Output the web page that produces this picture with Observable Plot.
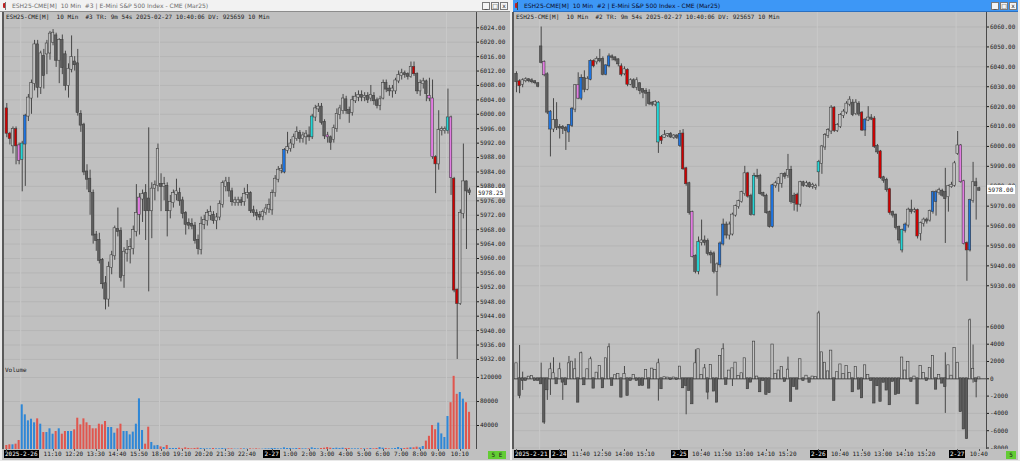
<!DOCTYPE html>
<html><head><meta charset="utf-8">
<script src="https://cdn.jsdelivr.net/npm/d3@7"></script>
<script src="https://cdn.jsdelivr.net/npm/@observablehq/plot@0.6"></script>
<style>
html,body{margin:0;padding:0;background:#e9e9e9;}
#root{position:relative;width:1020px;height:461px;overflow:hidden;background:#e9e9e9;}
#root div{position:absolute;box-sizing:border-box;}
.mono{font-family:"DejaVu Sans Mono",monospace;font-size:6px;color:#1a1a1a;white-space:pre;line-height:8px;}
.tbt{font-family:"DejaVu Sans",sans-serif;font-size:6px;white-space:pre;line-height:11px;}
.btn{width:8px;height:8px;top:2px;border:1px solid #7a7a7a;background:#f4f4f4;font:6px "DejaVu Sans";line-height:6px;text-align:center;color:#222;}
</style></head><body><div id="root"></div>
<script>
// ---------------- data ----------------
const leftTitle = "ESH25-CME[M]  10 Min  #3 | E-Mini S&P 500 Index - CME (Mar25)";
const rightTitle = "ESH25-CME[M]  10 Min  #2 | E-Mini S&P 500 Index - CME (Mar25)";
const leftHeader = "ESH25-CME[M]  10 Min  #3 TR: 9m 54s 2025-02-27 10:40:06 DV: 925659 10 Min";
const rightHeader = "ESH25-CME[M]  10 Min  #2 TR: 9m 54s 2025-02-27 10:40:06 DV: 925657 10 Min";

const leftOpen = [6001.5,5994.5,5991.25,5995.75,5991.25,5987.5,5991.75,5999.5,6004.5,6008.5,
6019.25,6007.5,6016,6016.75,6017,6020,6021.75,6015,6020.5,6016.5,
6008,6012.5,6014.5,6014,6000,5997,5984,5982,5978,5966.5,
5965,5959.5,5953,5948.75,5957.5,5960.75,5968,5967.5,5955.25,5961.5,
5962.5,5962.75,5967.5,5972.25,5976.5,5978,5976.5,5973.25,5979.5,5980.25,
5980.5,5980,5980,5973.25,5975.5,5977.75,5978,5976,5972.5,5969.75,
5969.5,5969,5965,5962.5,5969.5,5970.5,5972,5972,5970.5,5971.5,
5975,5980,5980.75,5978.5,5975.5,5975.5,5976,5975.75,5977.75,5978,
5973.25,5972.5,5972,5971.75,5972.75,5973.75,5973.5,5978.25,5982,5984.5,
5984,5990,5990.5,5991.75,5993.25,5994.75,5993.25,5993.75,5994,5993.75,
5999.25,6001.5,6002,5997.75,5994,5993.5,5993,5996,6000,6001,
6004,6001,6000.5,6003.75,6004.75,6005.25,6004.75,6005,6004.5,6005,
6003.75,6002.5,6004.5,6008.5,6007,6006.5,6006.5,6009.25,6010.75,6011.25,
6011,6010.5,6013,6011,6006.5,6008.5,6009,6005,6004.25,5988,
5986.25,5995.5,5995.5,5995.5,5999,5982,5951.25,5947.5,5972.5,5981.25,
5978.75];
const leftHigh = [6003,5995,5996.5,5996.5,5992,5992.5,6000,6005.5,6009.5,6020.5,
6020.5,6017.5,6018,6020.5,6023,6023.5,6022.5,6021,6022,6017.5,
6014,6021.75,6016,6018,6001,5997.5,5986,5984.5,5979,5967.5,
5967,5960,5955,5959,5962,5969,5974,5968.5,5963,5965,
5965.5,5969,5980.5,5978,5979,5980.5,5996.25,5981,5981.5,5991.75,
5983.5,5982.5,5981,5977.5,5979,5982,5979.5,5977,5973,5971,
5971,5970,5966.5,5971.5,5972,5973.5,5974.5,5973,5972.5,5976,
5981.5,5982.5,5982.5,5979.5,5977,5977,5977,5979.5,5980.5,5978.5,
5974.5,5973.5,5973,5973.5,5975,5976.5,5979,5983,5985.5,5986,
5990.5,5995,5993,5994.5,5996.5,5995.5,5995,5995.5,5996.5,6000,
6002.5,6003,6003,5998.5,5995,5994,5997,6001.5,6002.5,6005.5,
6005,6002,6005,6006,6006.5,6006.5,6006,6006,6008,6006,
6004.5,6005,6009.5,6009.5,6008,6008,6010,6012,6012.5,6012,
6011.5,6014.5,6014.5,6011.5,6009.5,6010,6009.5,6010,6009.5,5988.5,
6001,5996.5,5996.5,6007,5999.5,5982.5,5951.5,5973.5,5991.75,5981.5,
5979.5];
const leftLow = [5993.5,5991.5,5989,5986,5986,5978.5,5980,5998,6000,6006.5,
6004.5,6005.5,6007,6011,6015,6019,6013,6008.5,6011,6006.5,
6004.5,6011.5,6012,5999.5,5995,5983,5979,5972,5964,5962,
5958.5,5951.5,5945.75,5946.5,5955.5,5959.5,5966,5953.5,5951.75,5959,
5958.5,5961,5966,5966.5,5970,5965,5950.75,5965.5,5976,5978.5,
5973,5976,5966,5971,5974,5976,5974.5,5971,5966.5,5968,
5968,5964,5961,5961,5968,5969,5970.5,5969.5,5968,5970.5,
5974,5978.5,5977,5974.5,5974.5,5974.5,5974.5,5974.5,5976.5,5972.5,
5971.5,5970.5,5970.5,5970.5,5972,5972.5,5972,5977,5981,5983.5,
5983.5,5989,5989.5,5990.5,5992.5,5992,5992,5991.5,5992.5,5993,
5998,6000.5,5997,5993,5992,5990,5992,5995,5998.5,6000,
6000,5997.5,5999.5,6003,6003.5,6003.5,6003.5,6003,6003.5,6002.5,
6001.5,6001,6004,6006,6005,6004.5,6005.5,6008.5,6009.5,6010,
6009.5,6010,6010.5,6005.5,6005,6007,6003.5,6003.5,5987.5,5978,
5984.5,5994,5994.5,5994.5,5977.5,5950.5,5932,5947,5971,5962.5,
5977.5];
const leftClose = [5994.75,5993.25,5995.75,5991.25,5987.25,5991.75,5999.5,6004.5,6008.5,6019.25,
6007.5,6016.75,6010.75,6019.5,6022.25,6022.5,6015,6020.5,6013,6008,
6012.5,6015.75,6013.75,6000.5,5997,5984,5982,5978.5,5966.5,5965,
5959.5,5953,5948.75,5957.5,5960.75,5968.25,5967.5,5954.75,5961.75,5962.25,
5963,5967.75,5972.5,5976.75,5977.75,5973.25,5973.25,5979.25,5980.25,5990.25,
5980,5980.5,5973.25,5975.5,5978,5978.5,5976,5972.5,5969.5,5969.25,
5969,5965,5962.75,5969.5,5970.5,5972.5,5972.75,5970.5,5971.25,5975,
5980.75,5981.25,5978.75,5975.75,5976,5976,5975.5,5977.75,5978,5973.25,
5972.75,5972,5971.5,5972.75,5973.75,5974.75,5978,5982,5984.5,5984.75,
5990,5990.75,5991.75,5993.5,5995,5993.25,5994,5994.5,5993.75,5999.25,
6001.5,6002,5997.75,5994,5993.75,5992.25,5996,6000,6001.5,6004.25,
6001,6000.25,6003.75,6004.75,6005.25,6004.75,6005,6004,6005.25,6003.75,
6002.5,6004,6008.5,6007,6006.5,6007,6009.25,6010.75,6011.25,6011,
6010.5,6013,6011.25,6006.5,6008.5,6009,6005.75,6004.5,5988.25,5986.25,
5995.5,5995.75,5995.75,5999,5982.5,5951.25,5947.5,5972.5,5981.25,5978.75,
5978.25];
const leftVolume = [6700,7800,7800,8900,15000,74500,57800,47800,50500,44500,
51100,42200,28300,28300,34500,25500,30000,34500,25500,30000,
30000,30000,32800,52200,41100,51100,44500,40000,34500,34500,
42200,41100,46700,36700,36700,27200,34500,42200,30000,30000,
24400,29000,42200,84500,31700,8900,37200,11700,6100,6700,
4400,3300,6700,1700,1700,1700,2200,1100,2800,1700,
1100,1700,2200,1700,1100,1100,1100,1700,1100,1100,
1700,1100,1100,1100,600,600,1100,1100,600,1100,
600,1100,600,600,1100,1100,1700,1700,1100,1100,
2800,1700,1700,1100,1700,1700,1100,1100,1100,2800,
1700,1100,1700,2200,3300,2200,1700,2200,1700,2200,
1700,1700,1100,1100,1100,1100,1100,1100,1700,1100,
1700,3300,2200,1700,1100,1100,1700,3300,1700,1700,
2200,2800,2800,3900,2800,5000,14000,22000,40000,33000,
44000,26000,20000,55000,78000,122000,92000,95000,84000,78000,
62000];
const leftSignals = [[0,"r"],[1,"r"],[3,"r"],[4,"m"],[5,"c"],[6,"b"],[43,"m"],[90,"b"],[99,"c"],[104,"m"],[132,"r"],[137,"m"],[138,"m"],[139,"r"],[143,"c"],[144,"m"],[145,"r"],[146,"r"]];

const rightOpen = [6036.25,6032.5,6031.25,6033,6033.5,6033,6032.5,6031.5,6050,6042.25,
6036,6017.25,6008.75,6013,6009.5,6009.5,6009,6010.5,6010.5,6018.75,
6030.5,6024.25,6034.25,6028.75,6033.75,6042.75,6042.5,6043.75,6043.75,6036.25,
6040.5,6045,6044.5,6043.5,6040,6036.5,6038.25,6031.25,6033,6029.75,
6031.5,6028.5,6027.5,6026.75,6021.75,6021.25,6021.75,6004.5,6004.5,6005.5,
6006,6004.5,6005.25,6006,6006.25,5988.75,5981.25,5966.75,5944.75,5937.25,
5951.75,5952.5,5952.25,5946.25,5946,5937.25,5940.5,5951,5960.5,5955.5,
5956,5965.5,5969.75,5972.25,5976.25,5986.25,5975,5965.75,5985,5985,
5976.25,5975,5966.75,5959.75,5980.25,5981.25,5981.5,5986,5985.5,5988,
5975,5975.5,5971,5981.75,5980.5,5981.25,5980,5979.5,5987.25,5991.5,
5999.75,6005.5,6007.75,6019.25,6008,6010,6015.5,6017.25,6021.25,6021.75,
6016.5,6021.25,6016.75,6008.25,6013.25,6014.25,6013.75,6000,5997.25,5984.25,
5983,5978.25,5966.75,5965.5,5959.25,5948,5957.75,5960.5,5968,5967.5,
5967.75,5956.25,5961.25,5963,5963,5967.25,5976.75,5976.75,5977.5,5976.75,
5974.75,5979.75,5980.5,5996.5,6000.25,5982.25,5951.25,5948,5972.75,5981.75,
5978.75];
const rightHigh = [6037.5,6033.5,6034,6034.5,6034,6034,6033,6032,6060,6043,
6037,6018,6024,6022,6011,6010.5,6010,6011,6019.5,6031,
6037,6036,6038,6035,6043.5,6043.5,6045,6048.75,6045,6041,
6046.5,6046,6045,6044,6041.5,6040,6039,6034,6034,6034.5,
6032,6029,6029,6028.5,6022.5,6023,6022.5,6005.5,6008,6006.5,
6007,6006,6006,6008,6008.5,5989.5,5982,5967.5,5945.5,5954.5,
5963,5955,5953.5,5947.5,5947,5941.5,5952,5963.5,5962,5962,
5966.5,5970.5,5973,5977.5,5990,5987,5976,5986.5,5988.5,5986,
5977,5976,5967.5,5981,5982.5,5984.5,5986.5,5987,5996,5990,
5976.5,5976.5,5982.5,5982.5,5982.5,5982,5981.5,5981,5993,6000.5,
6006.5,6009,6020.5,6020,6011.5,6016.5,6018.5,6022.5,6025,6023.5,
6023.5,6022.5,6017.5,6014,6020,6016,6015,6001,5998,5985,
5984,5979,5967.5,5966,5960,5958.5,5961.5,5969,5973,5969,
5968.5,5962,5964,5964,5968,5977.5,5978,5979,5978.5,5989,
5980.5,5982,5992.5,6007.5,6001,5983,5952,5973.5,5992,5984,
5979.5];
const rightLow = [6027,6026.5,6029.5,6032,6032,6031.5,6031,6029.5,6041.5,6035,
6016,5994.75,6007,6008,6003.75,6006,5998,6002,6009.5,6017,
6023.5,6023,6027,6028,6033,6039.5,6041,6042,6035.5,6035.5,
6039.5,6043,6042.5,6040,6035,6035.5,6030,6030.5,6029,6028,
6026,6024,6020,6020.5,6020,6020,5996.5,6001,6004,6004.5,
6004,6003.5,6003.5,5999.5,5988,5980,5965.5,5944,5936,5935.5,
5950,5950,5945,5941,5936,5924.75,5939,5950,5953.5,5953,
5955,5964.5,5968.5,5971.5,5975,5974,5965,5965,5983.5,5975.5,
5974.5,5966,5959,5959,5979,5977,5979,5983.5,5984,5971,
5967.5,5967,5969.5,5979.5,5979.5,5979,5978.5,5978,5979.75,5986,
5998,6004,6006,6007,6007,6009,6014,6016,6020,6015,
6015.5,6015,6007.5,6005,6012.5,6013,5999,5996,5983.5,5981.5,
5977,5965.5,5964,5958,5951,5946.5,5956.5,5959,5966,5966.5,
5953.5,5952.5,5959.5,5961,5962,5966,5965,5975.5,5974.5,5951.25,
5967,5979,5979.5,5995.5,5981.5,5950.5,5932.25,5947,5971.5,5963,
5977.5];
const rightClose = [6032.5,6030.5,6033,6033.5,6033,6032.5,6032,6030.25,6042.25,6036,
6017.25,6008.75,6013,6009.5,6009.25,6009,6008,6007.25,6018.75,6030.5,
6024.25,6034.25,6028.75,6033.75,6042.75,6040.5,6043.75,6043,6036.25,6040.5,
6045,6044.75,6043.5,6041.5,6036.25,6038.5,6031.25,6033,6029.75,6033,
6028,6027.25,6026.75,6021.5,6021.25,6022,6002.25,6003,6005.5,6006,
6004.75,6005.25,6004.5,6000.5,5988.75,5981.25,5966.75,5944.75,5937.25,5951.75,
5952.5,5951.75,5946.25,5945.5,5937.25,5940.5,5951,5960.5,5955.5,5960.5,
5965.5,5969.75,5972.25,5976.75,5986.25,5975,5965.75,5985,5984.75,5976.25,
5975.5,5966.75,5959.75,5980.25,5981.25,5983.75,5986,5985,5988,5972.25,
5971.75,5971,5981.75,5980.5,5981.25,5979.75,5980.5,5980,5992,5999.75,
6005.5,6008,6019.25,6008,6010.5,6015.5,6017.25,6021.25,6023.25,6016,
6021.75,6016.25,6008.25,6013.25,6014.25,6013.75,6000,5997.25,5984.25,5983,
5978.25,5966.75,5965.5,5959.25,5953,5957.75,5960.5,5968,5967.25,5967.75,
5955,5961.25,5963,5962.5,5967.25,5976.75,5972.25,5977.75,5975.5,5973.75,
5979.75,5980.5,5991.25,6000.25,5982.25,5951.25,5948,5972.75,5981.75,5980.25,
5978];
const rightDelta = [1730,-1925,-190,-190,190,270,-190,-190,-580,-5000,
-1270,1040,580,-580,1040,-385,-690,1730,1925,1040,
-2700,2890,-690,1040,2200,-1080,650,1420,-1040,2310,
3580,-770,350,500,-2120,500,-1925,-190,385,-190,
-770,-770,960,-1080,1120,960,1730,-1150,120,80,
-100,90,-80,1350,-1040,-770,-1350,-2890,1730,3350,
385,1150,-1540,1540,-1420,-2700,2580,3350,-650,890,
1150,1810,270,580,2310,-1150,-385,4240,200,-1500,
-200,-1800,-1600,3900,500,900,1300,-300,1000,-2600,
-900,-1200,2200,-200,300,-400,200,150,7500,3000,
1800,800,3200,-2500,700,1600,500,1400,600,-1500,
1300,-1200,-2200,1500,400,-200,-2800,-800,-2600,-400,
-1300,-3000,-300,-1800,-1700,2400,900,1900,-300,200,
-2900,1400,600,-200,1200,2600,-1200,400,-500,-900,
1500,300,3500,1800,-3800,-5800,-6900,6700,1100,-300,
100];
// [bar, wick high, wick low] for delta bars with visible wicks
const deltaWicks = [[1,3850,-2310],[2,770,-1350],[8,1810,-580],[9,0,-5270],[10,0,-2500],[11,1810,-1925],[12,2430,0],[14,1810,0],[15,0,-2500],[17,2580,0],[19,2310,0],[21,3080,0],[24,2500,0],[30,4040,0],[35,1420,0],[46,2270,-2580],[55,0,-4160],[58,3350,0],[61,1650,0],[62,0,-2430],[67,4040,0],[70,1150,-890],[88,2500,0],[98,7800,0],[139,3000,-4000],[146,0,-7000],[147,6900,0],[148,3900,-500],[149,0,-2200]];
const rightSignals = [[1,"r"],[9,"m"],[11,"b"],[17,"b"],[18,"b"],[20,"m"],[21,"b"],[24,"b"],[25,"r"],[29,"b"],[30,"b"],[34,"r"],[36,"r"],[46,"c"],[47,"r"],[53,"b"],[54,"r"],[55,"r"],[57,"m"],[59,"c"],[66,"b"],[67,"b"],[75,"r"],[77,"c"],[83,"b"],[91,"r"],[98,"c"],[103,"r"],[112,"r"],[113,"b"],[116,"r"],[118,"r"],[121,"r"],[125,"c"],[126,"b"],[130,"r"],[135,"b"],[136,"b"],[144,"m"],[145,"m"],[146,"r"],[147,"b"]];

const leftPriceTicks = [5932,5936,5940,5944,5948,5952,5956,5960,5964,5968,5972,5976,5980,5984,5988,5992,5996,6000,6004,6008,6012,6016,6020,6024];
const rightPriceTicks = [5930,5940,5950,5960,5970,5980,5990,6000,6010,6020,6030,6040,6050,6060];
const volumeTicks = [40000,80000,120000];
const deltaTicks = [-8000,-6000,-4000,-2000,0,2000,4000,6000];
const leftSessions = [5,50,143];
const rightSessions = [8,53,98,143];
// x-axis labels: [bar index, text, isDate]
const leftXLabels = [[0,"2025-2-26",1],[15,"11:10"],[22,"12:20"],[29,"13:30"],[36,"14:40"],[43,"15:50"],[50,"18:00"],[57,"19:10"],[64,"20:20"],[71,"21:30"],[78,"22:40"],[86,"2-27",1],[92,"1:00"],[98,"2:00"],[104,"3:00"],[110,"4:00"],[116,"5:00"],[122,"6:00"],[128,"7:00"],[134,"8:00"],[140,"9:00"],[147,"10:10"]];
const rightXLabels = [[0,"2025-2-21",1],[14,"2-24",1],[21,"11:40"],[28,"12:50"],[35,"14:00"],[42,"15:10"],[53,"2-25",1],[60,"10:40"],[67,"11:50"],[74,"13:00"],[81,"14:10"],[88,"15:20"],[98,"2-26",1],[105,"10:40"],[112,"11:50"],[119,"13:00"],[126,"14:10"],[133,"15:20"],[143,"2-27",1],[150,"10:40"]];

// ---------------- drawing ----------------
const palette = {r:"#d00000", m:"#e27ce2", c:"#22d6d6", b:"#1e74e0"};
const BG = "#c0c0c0", INK = "#3a3a3a", GRID = "#b5b5b5", FONT = "DejaVu Sans Mono, monospace";
const root = document.getElementById("root");
function box(css, html, cls) { const d = document.createElement("div"); d.style.cssText = css; if (cls) d.className = cls; if (html != null) d.textContent = html; root.appendChild(d); return d; }
function place(svg, left, top) { const d = box(`left:${left}px;top:${top}px;`); d.appendChild(svg); return d; }
function candles(O,H,L,C,sig){ const m = new Map(sig); return O.map((o,i)=>({i,o,h:H[i],l:L[i],c:C[i],k:m.get(i)})); }
const baseStyle = {background: BG, fontFamily: FONT, fontSize: "6px", color: "#1a1a1a", overflow: "hidden"};

function pricePanel(data, o) {
  return Plot.plot({
    width: o.width, height: o.height, marginTop: 0, marginBottom: 0, marginLeft: 0, marginRight: o.marginRight,
    style: baseStyle,
    x: {domain: o.xDomain, axis: null},
    y: {domain: o.yDomain, axis: "right", ticks: o.ticks, tickFormat: d => d.toFixed(2), tickSize: 2, tickPadding: 1.5, label: null},
    marks: [
      Plot.ruleY(o.ticks, {stroke: GRID}),
      Plot.ruleX(o.sessions, {x: d => d - 0.5, stroke: "#c8c8c8"}),
      Plot.ruleX(data, {x: "i", y1: "l", y2: "h", stroke: INK, strokeWidth: 0.9, clip: true}),
      Plot.rect(data, {x1: d => d.i - 0.4, x2: d => d.i + 0.4, y1: "o", y2: "c", insetTop: -0.5, insetBottom: -0.5,
        fill: d => d.k ? palette[d.k] : (d.c < d.o ? "#5e5e5e" : BG), stroke: INK, strokeWidth: 0.55, clip: true})
    ]
  });
}

// ---- chrome ----
box("left:0;top:0;width:510px;height:12px;background:#f2f2f2;border-bottom:1px solid #8c8c8c;");
box("left:3px;top:3px;width:3px;height:5px;background:#c02020;border-radius:1px;");
box("left:5px;top:2px;width:1px;height:8px;background:#777;");
box("left:12px;top:0;color:#6d6d6d;", leftTitle, "tbt");
box("left:513px;top:0;width:505px;height:12px;background:#3d97f6;border-bottom:1px solid #2a6fc0;");
box("left:515px;top:3px;width:3px;height:5px;background:#c02020;border-radius:1px;");
box("left:517px;top:2px;width:1px;height:8px;background:#444;");
box("left:524px;top:0;color:#0b0b2a;", rightTitle, "tbt");
for (const x0 of [482, 991]) { box(`left:${x0}px;`, "_", "btn"); box(`left:${x0+9}px;`, "□", "btn"); box(`left:${x0+18}px;`, "x", "btn"); }

// ---- left window ----
const LX = 3, LW = 507, LMR = 34;
const leftData = candles(leftOpen, leftHigh, leftLow, leftClose, leftSignals);
const leftX = [-1.07, 152.25];
const lp = pricePanel(leftData, {width: LW, height: 351, marginRight: LMR, xDomain: leftX, yDomain: [5930.88, 6028.24], ticks: leftPriceTicks, sessions: leftSessions});
place(lp, LX, 12);
const volData = leftVolume.map((v,i)=>({i, v, up: leftClose[i] >= leftOpen[i]}));
const lv = Plot.plot({
  width: LW, height: 86, marginTop: 0, marginBottom: 0, marginLeft: 0, marginRight: LMR,
  style: baseStyle,
  x: {domain: leftX, axis: null},
  y: {domain: [0, 143400], axis: "right", ticks: volumeTicks, tickFormat: d => String(d), tickSize: 2, tickPadding: 1.5, label: null},
  marks: [
    Plot.ruleY(volumeTicks, {stroke: GRID}),
    Plot.ruleX(leftSessions, {x: d => d - 0.5, stroke: "#c8c8c8"}),
    Plot.rect(volData, {x1: d => d.i - 0.33, x2: d => d.i + 0.33, y1: 0, y2: "v", fill: d => d.up ? "#2f87d6" : "#e0564e"})
  ]
});
place(lv, LX, 363);
box("left:5px;top:366px;", "Volume", "mono");
box(`left:2px;top:12px;width:2px;height:437px;background:#5a5a5a;`);
box(`left:${LX + LW - LMR}px;top:12px;width:1px;height:437px;background:#4a4a4a;`);
box("left:2px;top:449px;width:508px;height:11px;background:#c0c0c0;");
box("left:6px;top:13px;", leftHeader, "mono");

// ---- right window ----
const RX = 513, RW = 505, RMR = 32;
const rightData = candles(rightOpen, rightHigh, rightLow, rightClose, rightSignals);
const rightX = [-0.97, 152.35];
const rp = pricePanel(rightData, {width: RW, height: 288, marginRight: RMR, xDomain: rightX, yDomain: [5922.6, 6067.3], ticks: rightPriceTicks, sessions: rightSessions});
place(rp, RX, 12);
const wickMap = new Map(deltaWicks.map(([i,hi,lo]) => [i, {hi, lo}]));
const dData = rightDelta.map((d,i)=>({i, d, hi: wickMap.has(i) ? Math.max(wickMap.get(i).hi, d, 0) : Math.max(d,0), lo: wickMap.has(i) ? Math.min(wickMap.get(i).lo, d, 0) : Math.min(d,0)}));
const rd = Plot.plot({
  width: RW, height: 149, marginTop: 0, marginBottom: 0, marginLeft: 0, marginRight: RMR,
  style: baseStyle,
  x: {domain: rightX, axis: null},
  y: {domain: [-8173, 9050], axis: "right", ticks: deltaTicks, tickFormat: d => String(d), tickSize: 2, tickPadding: 1.5, label: null},
  marks: [
    Plot.ruleY(deltaTicks, {stroke: GRID}),
    Plot.ruleX(rightSessions, {x: d => d - 0.5, stroke: "#c8c8c8"}),
    Plot.ruleX(dData, {x: "i", y1: "lo", y2: "hi", stroke: INK, strokeWidth: 0.9}),
    Plot.ruleY([0], {stroke: "#505050"}),
    Plot.rect(dData, {x1: d => d.i - 0.38, x2: d => d.i + 0.38, y1: 0, y2: "d", insetTop: -0.5, insetBottom: -0.5,
      fill: d => d.d < 0 ? "#5e5e5e" : "#c6c6c6", stroke: INK, strokeWidth: 0.6})
  ]
});
place(rd, RX, 300);
box(`left:512px;top:12px;width:2px;height:437px;background:#5a5a5a;`);
box(`left:${RX + RW - RMR}px;top:12px;width:1px;height:437px;background:#4a4a4a;`);
box("left:512px;top:449px;width:506px;height:11px;background:#c0c0c0;");
box("left:516px;top:13px;", rightHeader, "mono");

// ---- x-axis labels (positions from the plots' x scales) ----
function xLabels(plot, left, labels, plotLeft) {
  const xs = plot.scale("x");
  for (const [i, t, isDate] of labels) {
    const x = left + xs.apply(i);
    const el = box("top:450px;", t, "mono");
    if (isDate) { el.style.background = "#000"; el.style.color = "#fff"; el.style.padding = "0 1px"; }
    const w = el.getBoundingClientRect().width;
    let lx = x - w / 2;
    if (lx < plotLeft + 1) lx = plotLeft + 1;
    el.style.left = lx + "px";
    box(`left:${x}px;top:449px;width:1px;height:2px;background:#555;`);
  }
}
xLabels(lp, LX, leftXLabels, LX);
xLabels(rp, RX, rightXLabels, RX);

// ---- last price markers ----
function lastPrice(plot, top, value, x) {
  const y = top + plot.scale("y").apply(value);
  const el = box(`left:${x}px;top:${y - 4.5}px;width:28px;height:9px;background:#fff;padding-left:1px;`, value.toFixed(2), "mono");
  el.style.lineHeight = "9px";
}
lastPrice(lp, 12, leftClose[leftClose.length - 1], 477);
lastPrice(rp, 12, rightClose[rightClose.length - 1], 987);

// ---- status boxes ----
box("left:488px;top:451px;width:18px;height:8px;background:#63cc34;text-align:center;line-height:8px;", "5 E", "mono");
box("left:1006px;top:451px;width:10px;height:8px;background:#63cc34;text-align:center;line-height:8px;", "5", "mono");
</script></body></html>
